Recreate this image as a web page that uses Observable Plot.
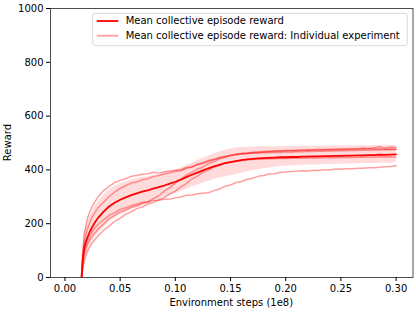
<!DOCTYPE html>
<html><head><meta charset="utf-8">
<script src="https://cdn.jsdelivr.net/npm/d3@7"></script>
<script src="https://cdn.jsdelivr.net/npm/@observablehq/plot@0.6"></script>
<style>body{margin:0;background:#fff}</style>
</head><body><div id="chart"></div>
<script>
const steps = [0.0148,0.016,0.0175,0.02,0.0225,0.025,0.0275,
0.03,0.035,0.04,0.045,0.05,0.055,0.06,0.065,0.07,0.075,0.08,0.085,0.09,0.095,
0.10,0.105,0.11,0.115,0.12,0.125,0.13,0.135,0.14,0.145,0.15,0.155,0.16,0.165,0.17,0.175,
0.18,0.185,0.19,0.195,0.20,0.205,0.21,0.215,0.22,0.225,0.23,0.235,0.24,0.245,0.25,0.255,
0.26,0.265,0.27,0.275,0.28,0.285,0.29,0.295,0.30];
const meanReward = [-15,60,112,145,170,190,207,
222,245,264,278,289,298,306,313,319,324,330,336,342,349,
356,364,373,382,390,398,406,413,419,425,429,433,436,439,441,443,
444,445,446,447,447,448,448,449,449,450,450,451,451,452,452,453,
453,454,454,455,455,457,456,457,458];
const bandLow = [-25,20,65,95,118,135,150,
163,185,205,220,232,243,252,260,268,275,283,290,297,305,
312,320,328,336,343,350,357,364,370,375,378,383,388,393,397,401,
404,407,410,412,414,415,416,417,418,418,419,420,420,421,421,422,
422,423,423,424,424,425,425,426,427];
const bandHigh = [-5,100,165,200,225,247,265,
281,306,325,338,347,355,362,367,372,375,378,382,388,393,
399,407,416,425,434,443,452,460,467,473,478,481,483,484,485,485,
486,486,486,487,487,487,487,488,488,488,488,488,489,489,489,489,
489,490,490,490,490,491,491,491,491];
const run1 = [-15,90,160,215,245,266,284,
300,323,339,353,361,367,376,379,384,386,391,388,393,396,
399,401,409,411,419,425,431,439,443,451,454,459,460,463,466,465,
469,468,471,470,473,471,474,472,475,474,477,475,478,476,479,477,
480,478,481,479,482,486,481,484,483];
const run2 = [-15,70,130,175,205,228,244,
259,280,301,317,331,341,351,355,363,367,375,379,385,389,
395,397,406,411,421,427,435,439,447,449,455,457,462,461,465,467,
466,469,468,471,470,472,471,474,472,475,473,476,474,477,475,478,
476,479,477,480,478,479,477,478,477];
const run3 = [-15,40,85,120,140,156,167,
181,199,219,231,244,251,261,266,275,281,293,304,321,334,
351,365,381,391,403,411,423,431,441,446,453,455,459,460,463,462,
465,464,466,465,467,466,468,467,469,468,470,469,471,470,472,471,
473,472,474,473,475,474,476,475,476];
const run4 = [-15,25,60,95,115,130,143,
154,176,191,209,221,235,244,256,262,273,279,289,297,311,
321,337,349,366,377,391,399,411,417,425,429,433,436,438,439,441,
440,442,441,443,442,443,444,443,444,445,444,445,446,445,446,447,
446,447,448,447,448,449,448,449,447];
const run5 = [-15,55,100,135,155,172,186,
198,214,231,241,253,259,268,272,279,281,286,287,291,292,
296,299,306,307,311,313,315,323,329,339,344,353,357,365,369,376,
379,385,386,391,392,394,395,397,396,399,398,401,400,403,402,404,
404,406,406,408,408,410,412,413,416];
const xTicks = [0,0.05,0.10,0.15,0.20,0.25,0.30];
const xTickLabels = ["0.00","0.05","0.10","0.15","0.20","0.25","0.30"];
const yTicks = [0,200,400,600,800,1000];
const yTickLabels = ["0","200","400","600","800","1000"];
const legendLabels = ["Mean collective episode reward","Mean collective episode reward: Individual experiment"];
const xLabel = "Environment steps (1e8)";
const yLabel = "Reward";

const rows = steps.map((s,i) => ({step:s, mean:meanReward[i], lo:bandLow[i], hi:bandHigh[i],
  r1:run1[i], r2:run2[i], r3:run3[i], r4:run4[i], r5:run5[i]}));

const W = 416, H = 312, mL = 50, mR = 3.5, mT = 8, mB = 35;
const runColor = "red", runOpacity = 0.38;
const svg = Plot.plot({
  width: W, height: H,
  marginLeft: mL, marginRight: mR, marginTop: mT, marginBottom: mB,
  style: {fontFamily: "'DejaVu Sans', sans-serif", fontSize: "10px", color: "#000", background: "#fff"},
  x: {domain: [-0.0131, 0.3153]},
  y: {domain: [0, 1000]},
  marks: [
    Plot.areaY(rows, {x: "step", y1: "lo", y2: "hi", fill: "red", fillOpacity: 0.14, clip: true}),
    ...["r1","r2","r3","r4","r5"].map(k => Plot.lineY(rows, {x: "step", y: k, stroke: runColor, strokeOpacity: runOpacity, strokeWidth: 1.5, clip: true})),
    Plot.lineY(rows, {x: "step", y: "mean", stroke: "red", strokeWidth: 1.8, clip: true}),
    Plot.frame({stroke: "#222", strokeWidth: 0.8}),
    Plot.axisX({ticks: xTicks, tickFormat: (d) => xTickLabels[xTicks.indexOf(d)], tickSize: 4, tickPadding: 3, label: null, fontSize: 10}),
    Plot.axisY({ticks: yTicks, tickFormat: (d) => yTickLabels[yTicks.indexOf(d)], tickSize: 4, tickPadding: 3, label: null, fontSize: 10})
  ]
});
document.getElementById("chart").appendChild(svg);

const g = d3.select(svg).append("g").attr("font-family", "'DejaVu Sans', sans-serif").attr("font-size", 10).attr("fill", "#000");
g.append("text").attr("x", (mL + W - mR) / 2).attr("y", 303).attr("text-anchor", "middle").attr("dominant-baseline", "middle").text(xLabel);
g.append("text").attr("transform", `translate(7.5,${(mT + H - mB) / 2}) rotate(-90)`).attr("text-anchor", "middle").attr("dominant-baseline", "middle").text(yLabel);

const lg = g.append("g");
lg.append("rect").attr("x", 92.7).attr("y", 13.3).attr("width", 314.6).attr("height", 32.4).attr("rx", 2.5)
  .attr("fill", "#fff").attr("fill-opacity", 0.8).attr("stroke", "#d0d0d0").attr("stroke-width", 0.8);
const rowsY = [21, 35.7];
lg.append("line").attr("x1", 96.7).attr("x2", 118.3).attr("y1", rowsY[0]).attr("y2", rowsY[0]).attr("stroke", "red").attr("stroke-width", 1.8);
lg.append("line").attr("x1", 96.7).attr("x2", 118.3).attr("y1", rowsY[1]).attr("y2", rowsY[1]).attr("stroke", runColor).attr("stroke-opacity", runOpacity).attr("stroke-width", 1.8);
legendLabels.forEach((t, i) => lg.append("text").attr("x", 125.7).attr("y", rowsY[i]).attr("text-anchor", "start").attr("dominant-baseline", "middle").text(t));
</script></body></html>
